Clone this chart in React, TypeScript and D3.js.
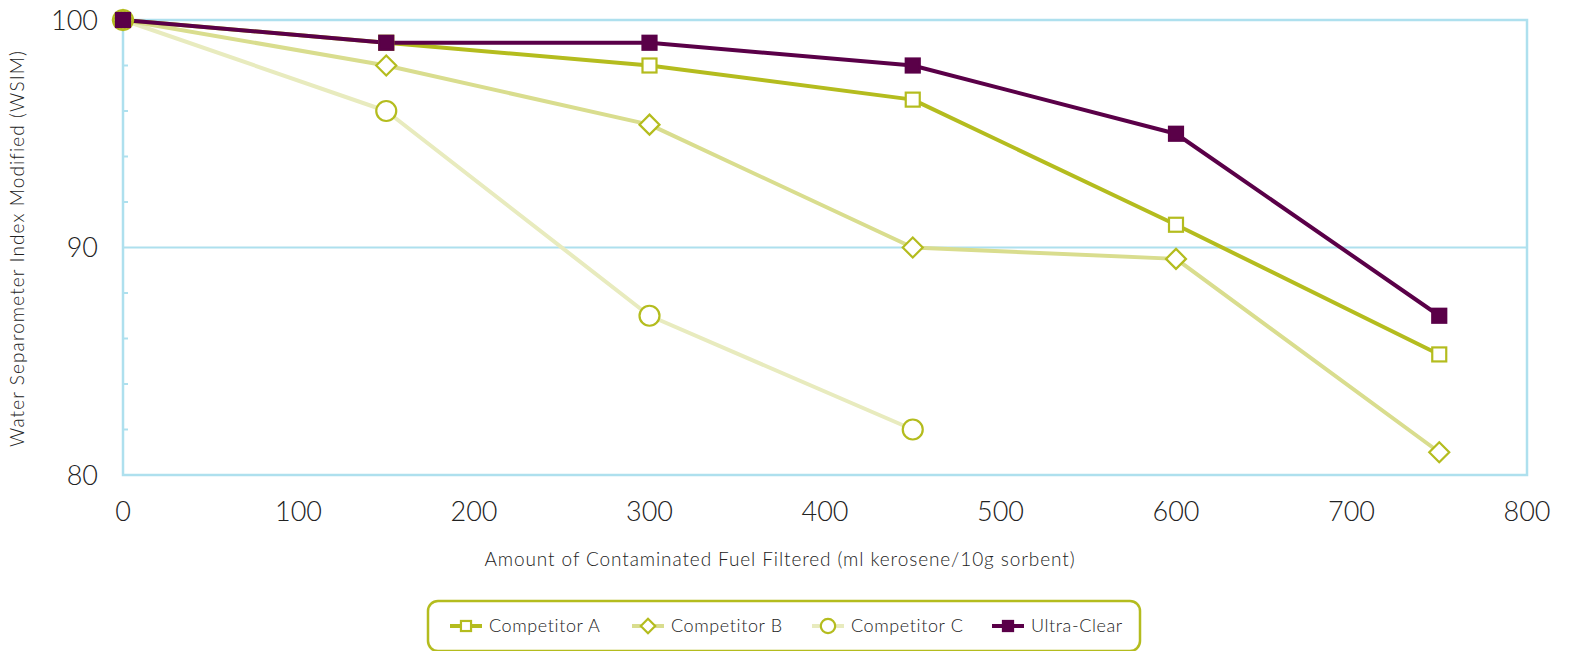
import React from "react";
import * as d3 from "d3";

const xValues = [0, 150, 300, 450, 600, 750];
const competitorA = [100, 99, 98, 96.5, 91, 85.3];
const competitorB = [100, 98, 95.4, 90, 89.5, 81];
const competitorC = [100, 96, 87, 82];
const ultraClear = [100, 99, 99, 98, 95, 87];
const xTicks = [0, 100, 200, 300, 400, 500, 600, 700, 800];
const yTicks = [80, 90, 100];
const yMinor = [82, 84, 86, 88, 92, 94, 96, 98];

const W = 1575, H = 651;
const left = 123, right = 1527, top = 20, bottom = 475;
const FONT = "'Century Gothic', 'Lato', 'DejaVu Sans', sans-serif";
const AXIS = "#aee0ee";
const OLIVE = "#b4bc1e";
const PURPLE = "#5a0048";

type Series = { name: string; values: number[]; line: string; marker: "square" | "diamond" | "circle"; fill: string; stroke: string; width: number };
const series: Series[] = [
  { name: "Competitor C", values: competitorC, line: "#e8ebbe", marker: "circle", fill: "#fff", stroke: OLIVE, width: 4 },
  { name: "Competitor B", values: competitorB, line: "#d9dd8e", marker: "diamond", fill: "#fff", stroke: OLIVE, width: 4 },
  { name: "Competitor A", values: competitorA, line: OLIVE, marker: "square", fill: "#fff", stroke: OLIVE, width: 4 },
  { name: "Ultra-Clear", values: ultraClear, line: PURPLE, marker: "square", fill: PURPLE, stroke: PURPLE, width: 4 },
];
const legendOrder = ["Competitor A", "Competitor B", "Competitor C", "Ultra-Clear"];

const x = d3.scaleLinear().domain([0, 800]).range([left, right]);
const y = d3.scaleLinear().domain([80, 100]).range([bottom, top]);

function Marker({ kind, cx, cy, fill, stroke, big }: { kind: string; cx: number; cy: number; fill: string; stroke: string; big?: boolean }) {
  const s = big ? 1 : 0.72;
  if (kind === "square") {
    const h = 7 * s;
    return <rect x={cx - h} y={cy - h} width={2 * h} height={2 * h} fill={fill} stroke={stroke} strokeWidth={2.2} />;
  }
  if (kind === "diamond") {
    const h = 10 * s;
    return <path d={`M${cx},${cy - h}L${cx + h},${cy}L${cx},${cy + h}L${cx - h},${cy}Z`} fill={fill} stroke={stroke} strokeWidth={2.2} />;
  }
  return <circle cx={cx} cy={cy} r={10 * s} fill={fill} stroke={stroke} strokeWidth={2.2} />;
}

export default function App() {
  const line = d3.line<number>().x((_, i) => x(xValues[i])).y((d) => y(d));
  const legendX = [450, 632, 812, 992];
  return (
    <svg width={W} height={H} style={{ display: "block", position: "fixed", left: 0, top: 0 }} fontFamily={FONT}>
      <rect x={0} y={0} width={W} height={H} fill="#fff" />
      <line x1={left} x2={right} y1={y(90)} y2={y(90)} stroke={AXIS} strokeWidth={2} />
      <rect x={left} y={top} width={right - left} height={bottom - top} fill="none" stroke={AXIS} strokeWidth={2.5} />
      {yMinor.map((v) => (
        <line key={v} x1={left} x2={left + 5} y1={y(v)} y2={y(v)} stroke={AXIS} strokeWidth={2} />
      ))}
      {yTicks.map((v) => (
        <text key={v} x={98} y={y(v)} dy="0.36em" textAnchor="end" fontSize={27} fill="#222" fontWeight={300}>{v}</text>
      ))}
      {xTicks.map((v) => (
        <text key={v} x={x(v)} y={521} textAnchor="middle" fontSize={27} fill="#222" fontWeight={300}>{v}</text>
      ))}
      <text x={780} y={566} textAnchor="middle" fontSize={19} letterSpacing={0.9} fill="#222" fontWeight={300}>
        Amount of Contaminated Fuel Filtered (ml kerosene/10g sorbent)
      </text>
      <text transform={`translate(24,${(top + bottom) / 2 + 1}) rotate(-90)`} textAnchor="middle" fontSize={19} letterSpacing={1.1} fill="#222" fontWeight={300}>
        Water Separometer Index Modified (WSIM)
      </text>
      {series.map((s) => (
        <path key={s.name} d={line(s.values) || ""} fill="none" stroke={s.line} strokeWidth={s.width} strokeLinejoin="round" />
      ))}
      {series.map((s) =>
        s.values.map((v, i) => (
          <Marker key={s.name + i} kind={s.marker} cx={x(xValues[i])} cy={y(v)} fill={s.fill} stroke={s.stroke} big />
        ))
      )}
      <rect x={428} y={601} width={712} height={50} rx={10} fill="#fff" stroke={OLIVE} strokeWidth={2.5} />
      {legendOrder.map((name, k) => {
        const s = series.find((q) => q.name === name)!;
        const lx = legendX[k];
        return (
          <g key={name}>
            <line x1={lx} x2={lx + 32} y1={626} y2={626} stroke={s.line} strokeWidth={4} />
            <Marker kind={s.marker} cx={lx + 16} cy={626} fill={s.fill} stroke={s.stroke} />
            <text x={lx + 39} y={626} dy="0.36em" fontSize={18} letterSpacing={0.6} fill="#222" fontWeight={300}>{name}</text>
          </g>
        );
      })}
    </svg>
  );
}
